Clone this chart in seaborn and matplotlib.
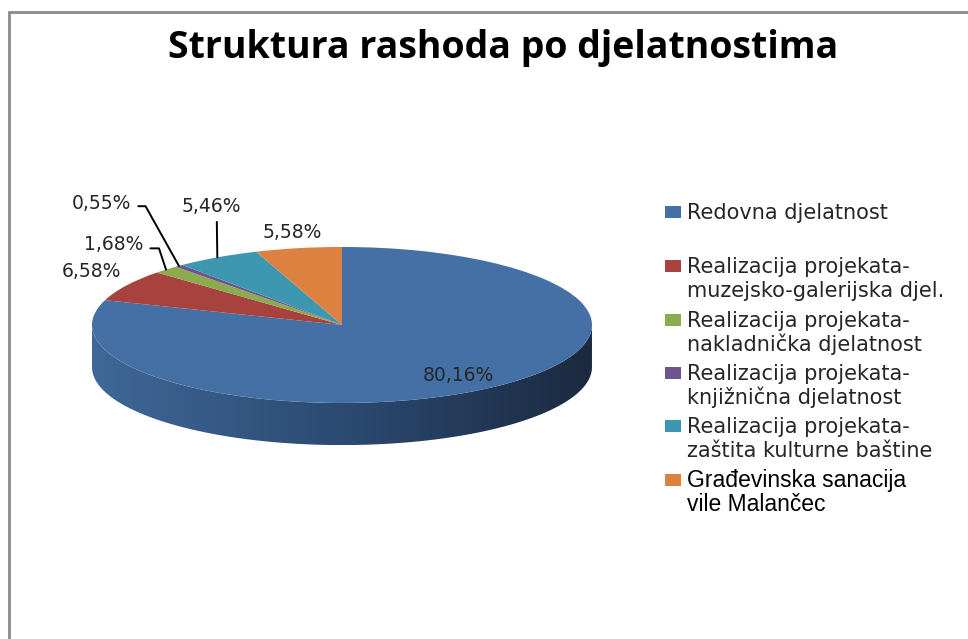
import numpy as np
import matplotlib
matplotlib.use('Agg')
import matplotlib.pyplot as plt
from matplotlib.patches import Polygon, Rectangle
from matplotlib.lines import Line2D
from matplotlib.colors import LinearSegmentedColormap
import seaborn as sns

# podaci
categories = ['Redovna djelatnost',
              'Realizacija projekata-\nmuzejsko-galerijska djel.',
              'Realizacija projekata-\nnakladnička djelatnost',
              'Realizacija projekata-\nknjižnična djelatnost',
              'Realizacija projekata-\nzaštita kulturne baštine',
              'Građevinska sanacija\nvile Malančec']
shares = [80.16, 6.58, 1.68, 0.55, 5.46, 5.58]
pct_labels = ['80,16%', '6,58%', '1,68%', '0,55%', '5,46%', '5,58%']
colors = ['#4470A5', '#A8423F', '#8CAA4E', '#6E558F', '#3D97B0', '#DC8140']

sns.set_theme(style='white')
plt.rcParams['font.family'] = ['DejaVu Sans']

W, H = 968, 639
fig = plt.figure(figsize=(W / 100, H / 100), dpi=100)
fig.patch.set_facecolor('white')

# okvir grafikona (samo lijevi i gornji rub vidljivi)
fig.add_artist(Line2D([9 / W, 9 / W], [0, 1 - 12 / H], transform=fig.transFigure, color='#8c8c8c', lw=2))
fig.add_artist(Line2D([9 / W, 1], [1 - 12 / H, 1 - 12 / H], transform=fig.transFigure, color='#8c8c8c', lw=2))

fig.text(503 / W, 1 - 48 / H, 'Struktura rashoda po djelatnostima', ha='center', va='center',
         fontsize=27, fontweight='bold', family=['Open Sans', 'DejaVu Sans'], color='black')

# pita - y os stisnuta da izgleda kao 3D elipsa
ax = fig.add_axes([0.0434, 0.2229, 0.6198, 0.5371])
wedges, _ = ax.pie(shares, colors=colors, startangle=90, counterclock=False,
                   wedgeprops=dict(linewidth=0, zorder=3))

depth = 0.54
t = np.linspace(np.pi, 2 * np.pi, 200)
top = np.column_stack([np.cos(t), np.sin(t)])
bot = np.column_stack([np.cos(t[::-1]), np.sin(t[::-1]) - depth])
side = Polygon(np.vstack([top, bot]), closed=True, facecolor='none', edgecolor='none')
ax.add_patch(side)
side_cmap = LinearSegmentedColormap.from_list('side', ['#3F6898', '#2C4A72', '#1B2A40'])
im = ax.imshow(np.linspace(0, 1, 256)[None, :], extent=(-1, 1, -1 - depth, 0),
               aspect='auto', cmap=side_cmap, zorder=2)
im.set_clip_path(side)

ax.set_aspect('auto')
ax.set_xlim(-1.2, 1.2)
ax.set_ylim(-2.2, 2.2)
ax.axis('off')

# postotci
total = sum(shares)
start = 90 - 360 * np.cumsum([0] + shares[:-1]) / total
mid = np.deg2rad(start - 180 * np.array(shares) / total)
txt = dict(fontsize=13.5, color='#262626', ha='center', va='center')

ax.text(0.8 * np.cos(mid[0]), 0.8 * np.sin(mid[0]), pct_labels[0], **txt)

offsets = [None, (-25, 10), (-38, 18), (-56, 45), (-4.3, 36.7), (-4.7, 11.5)]
arrows = [None, None,
          dict(arrowstyle='-', connectionstyle='angle,angleA=0,angleB=-71.6,rad=0',
               relpos=(1, 0.3), shrinkA=3, shrinkB=0, lw=1.4, color='black'),
          dict(arrowstyle='-', connectionstyle='angle,angleA=0,angleB=-60.8,rad=0',
               relpos=(1, 0.35), shrinkA=3, shrinkB=0, lw=1.4, color='black'),
          dict(arrowstyle='-', relpos=(0.59, 0), shrinkA=2, shrinkB=0, lw=1.4, color='black'),
          None]
for i in range(1, len(shares)):
    ax.annotate(pct_labels[i], xy=(np.cos(mid[i]), np.sin(mid[i])), xytext=offsets[i],
                textcoords='offset points', arrowprops=arrows[i], **txt)

# legenda - svaki redak posebno, oznaka uz prvi redak
baselines = [219, 273, 327, 380, 433, 487]
line_gap = 24
for i, (lab, col) in enumerate(zip(categories, colors)):
    y0 = baselines[i]
    fig.add_artist(Rectangle((665 / W, 1 - (y0 - 1) / H), 16 / W, 12 / H,
                             transform=fig.transFigure, color=col, lw=0))
    last = i == len(categories) - 1
    for j, line in enumerate(lab.split('\n')):
        fig.text(687 / W, 1 - (y0 + j * line_gap) / H, line, va='baseline', ha='left',
                 fontsize=16.5 if last else 15,
                 family=['Liberation Sans'] if last else ['DejaVu Sans'],
                 color='black' if last else '#262626')

fig.savefig('out.png', dpi=100, facecolor='white')
